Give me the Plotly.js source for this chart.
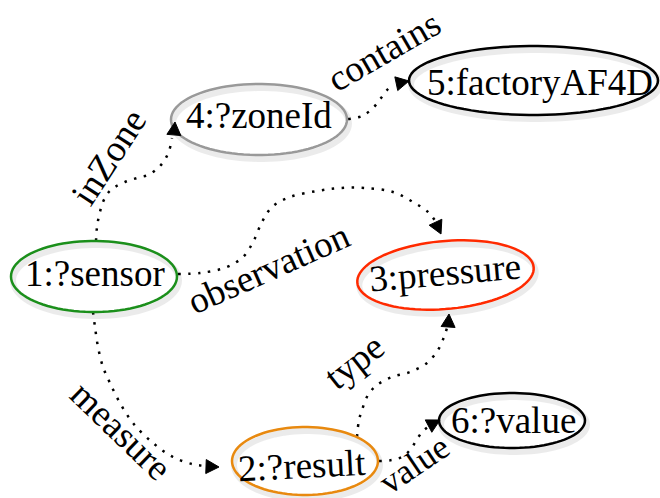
<!DOCTYPE html>
<html>
<head>
<meta charset="utf-8">
<script src="https://cdn.plot.ly/plotly-3.0.1.min.js"></script>
<style>html,body{margin:0;padding:0;background:#fff;}#chart{width:660px;height:498px;}</style>
</head>
<body>
<div id="chart"></div>
<script>
// ---- Node data ----
const nodeLabels = ['1:?sensor', '2:?result', '3:pressure', '4:?zoneId', '5:factoryAF4D', '6:?value'];
const nodeX = [94, 305, 445.5, 259, 533.5, 512];
const nodeY = [276.5, 461, 275, 119.5, 80.5, 420.5];
// ellipse styling (sizes, tilt, colours)
const nodeRx = [83, 73, 88.5, 88, 124.5, 73];
const nodeRy = [35.5, 34, 34, 35.5, 34.5, 27.5];
const nodeTilt = [0, 0, -5, 0, 0, 0];
const nodeColors = ['#1b8f1b', '#e8890f', '#ff2a00', '#999999', '#000000', '#000000'];
const nodeTextX = [95, 302, 445, 259, 540, 513];
const nodeTextY = [273, 465, 272, 115, 82, 420];
const nodeTextAngle = [0, -3, -5, 0, 0, 0];

// ---- Edge data (waypoints of each dotted curve) ----
const edgeLabels = ['inZone', 'contains', 'observation', 'measure', 'type', 'value'];
const inZoneX = [96, 97, 99, 103, 108, 115, 125, 137, 148, 157, 164, 169, 172];
const inZoneY = [241, 227, 216, 202, 193, 187, 182, 178, 175, 169, 161, 151, 138];
const containsX = [348, 362, 373, 381, 388, 394];
const containsY = [119, 116, 108, 98, 89, 84];
const observationX = [178, 200, 227, 244, 254, 262, 272, 290, 317, 340, 365, 393, 413, 428, 436];
const observationY = [274, 273, 267, 256, 240, 222, 207, 197, 191, 188, 188, 192, 202, 212, 222];
const measureX = [93, 95, 98, 103, 110, 120, 133, 153, 173, 192, 205];
const measureY = [312, 327, 347, 367, 383, 403, 423, 443, 457, 464, 466];
const typeX = [357, 359, 362, 368, 377, 392, 410, 427, 438, 444, 447];
const typeY = [437, 420, 410, 395, 385, 377, 372, 363, 350, 337, 328];
const valueX = [379, 392, 402, 410, 416, 422, 428];
const valueY = [461, 460, 457, 450, 441, 432, 427];
// arrow tips and pointing directions (degrees clockwise from up)
const arrowTipX = [175, 409, 441, 219, 449, 440];
const arrowTipY = [122, 81, 234, 467, 314, 420];
const arrowDir = [5, 78, 155, 92, 4, 62];
// edge label placement
const edgeLabelX = [108, 383, 268, 121, 354, 414];
const edgeLabelY = [157, 51, 268, 430, 361, 464];
const edgeLabelAngle = [-57, -30, -24, 44, -38, -34];
const edgeLabelSize = [37, 37, 37, 37, 37, 35];

const edgeXs = [inZoneX, containsX, observationX, measureX, typeX, valueX];
const edgeYs = [inZoneY, containsY, observationY, measureY, typeY, valueY];

const FONT = 'Liberation Serif, Times New Roman, serif';

function ellipsePath(cx, cy, rx, ry, tiltDeg) {
  const t = tiltDeg * Math.PI / 180;
  const n = 90;
  let d = '';
  for (let i = 0; i <= n; i++) {
    const a = 2 * Math.PI * i / n;
    const ex = rx * Math.cos(a), ey = ry * Math.sin(a);
    const x = cx + ex * Math.cos(t) - ey * Math.sin(t);
    const y = cy + ex * Math.sin(t) + ey * Math.cos(t);
    d += (i === 0 ? 'M' : 'L') + x.toFixed(2) + ',' + y.toFixed(2);
  }
  return d + 'Z';
}

function arrowPath(tx, ty, dirDeg, len, half) {
  const a = dirDeg * Math.PI / 180;
  const ux = Math.sin(a), uy = -Math.cos(a); // pointing direction
  const px = -uy, py = ux;                   // perpendicular
  const bx = tx - ux * len, by = ty - uy * len;
  return 'M' + tx + ',' + ty +
    'L' + (bx + px * half).toFixed(2) + ',' + (by + py * half).toFixed(2) +
    'L' + (bx - px * half).toFixed(2) + ',' + (by - py * half).toFixed(2) + 'Z';
}

const shapes = [];
// soft shadows
for (let i = 0; i < nodeLabels.length; i++) {
  shapes.push({type: 'path', xref: 'x', yref: 'y', layer: 'below',
    path: ellipsePath(nodeX[i] + 2, nodeY[i] + 4, nodeRx[i], nodeRy[i], nodeTilt[i]),
    line: {color: 'rgba(0,0,0,0.08)', width: 6}});
}
for (let i = 0; i < nodeLabels.length; i++) {
  shapes.push({type: 'path', xref: 'x', yref: 'y',
    path: ellipsePath(nodeX[i], nodeY[i], nodeRx[i], nodeRy[i], nodeTilt[i]),
    line: {color: nodeColors[i], width: 2.5}});
}
for (let i = 0; i < arrowTipX.length; i++) {
  shapes.push({type: 'path', xref: 'x', yref: 'y',
    path: arrowPath(arrowTipX[i], arrowTipY[i], arrowDir[i], 13, 7),
    fillcolor: '#000', line: {color: '#000', width: 1}});
}

const traces = edgeXs.map((xs, i) => ({
  type: 'scatter', mode: 'lines', x: xs, y: edgeYs[i], name: edgeLabels[i],
  line: {color: '#000', width: 2.5, dash: '2.5px,7.5px', shape: 'spline', smoothing: 1},
  hoverinfo: 'skip'
}));

const annotations = [];
for (let i = 0; i < nodeLabels.length; i++) {
  annotations.push({x: nodeTextX[i], y: nodeTextY[i], xref: 'x', yref: 'y', text: nodeLabels[i],
    showarrow: false, textangle: nodeTextAngle[i], xanchor: 'center', yanchor: 'middle',
    font: {family: FONT, size: 37, color: '#000'}});
}
for (let i = 0; i < edgeLabels.length; i++) {
  annotations.push({x: edgeLabelX[i], y: edgeLabelY[i], xref: 'x', yref: 'y', text: edgeLabels[i],
    showarrow: false, textangle: edgeLabelAngle[i], xanchor: 'center', yanchor: 'middle',
    font: {family: FONT, size: edgeLabelSize[i], color: '#000'}});
}

const layout = {
  width: 660, height: 498,
  margin: {l: 0, r: 0, t: 0, b: 0, pad: 0},
  paper_bgcolor: '#fff', plot_bgcolor: '#fff',
  showlegend: false,
  xaxis: {range: [0, 660], visible: false, fixedrange: true},
  yaxis: {range: [498, 0], visible: false, fixedrange: true},
  shapes: shapes,
  annotations: annotations
};

Plotly.newPlot('chart', traces, layout, {displayModeBar: false, staticPlot: true});
</script>
</body>
</html>
